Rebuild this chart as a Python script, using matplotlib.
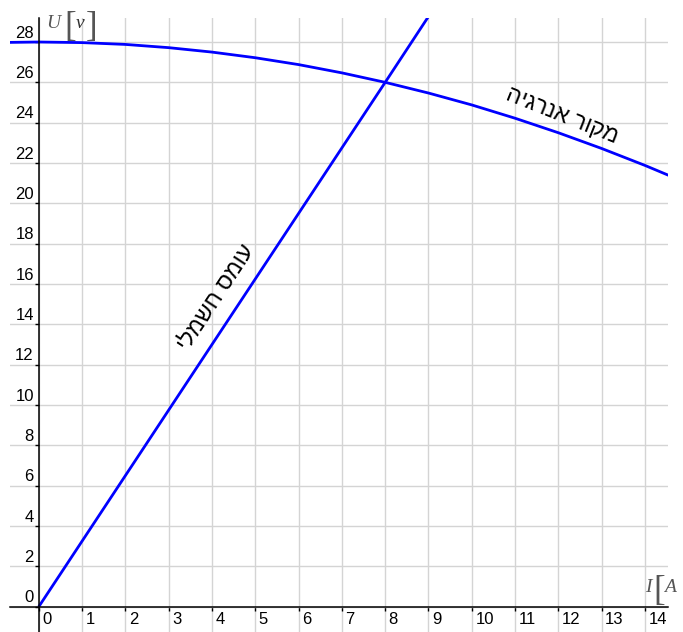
import matplotlib
matplotlib.use('Agg')
import matplotlib.pyplot as plt

# נתונים - זרם [A] ומתח [V]
source_I = [-0.7, 0, 1, 2, 3, 4, 5, 6, 7, 8, 9, 10, 11, 12, 13, 14, 14.6]
source_U = [27.98, 28.00, 27.97, 27.88, 27.72, 27.50, 27.22, 26.88, 26.47,
            26.00, 25.47, 24.88, 24.22, 23.50, 22.72, 21.88, 21.34]
load_I = [0, 4, 8, 9.5]
load_U = [0, 13, 26, 30.9]

x_ticks = list(range(0, 15))
y_ticks = list(range(0, 29, 2))

source_label = 'מקור אנרגיה'
load_label = 'עומס חשמלי'

plt.rcParams['font.family'] = ['Liberation Sans', 'DejaVu Sans']

fig = plt.figure(figsize=(6.83, 6.32), dpi=100)
ax = fig.add_axes([10 / 683, 0, 658 / 683, 614 / 632])
ax.set_xlim(-0.663, 14.53)
ax.set_ylim(-1.25, 29.19)

for s in ['top', 'right']:
    ax.spines[s].set_visible(False)
ax.spines['left'].set_position(('data', 0))
ax.spines['bottom'].set_position(('data', 0))
for s in ['left', 'bottom']:
    ax.spines[s].set_linewidth(1.1)
ax.set_xticks(x_ticks)
ax.set_yticks(y_ticks)
ax.tick_params(direction='out', length=3, width=1, labelbottom=False, labelleft=False)
ax.grid(True, color='#d4d4d4', lw=1)
ax.set_axisbelow(True)

# תוויות הצירים (ידני, כמו בגאוגברה)
for x in x_ticks:
    ax.annotate(str(x), (x, 0), xytext=(2.5, -3.5), textcoords='offset points',
                ha='left', va='top', fontsize=12)
for y in y_ticks:
    ax.annotate(str(y), (0, y), xytext=(-3.5, 1), textcoords='offset points',
                ha='right', va='bottom', fontsize=12)

ax.plot(source_I, source_U, color='#0000ff', lw=2, solid_capstyle='butt')
ax.plot(load_I, load_U, color='#0000ff', lw=2, solid_capstyle='butt')

# matplotlib לא הופך עברית - הופכים את הסדר
ax.text(12.08, 24.38, source_label[::-1], rotation=-21.8, rotation_mode='anchor',
        ha='center', va='center', fontsize=16.5)
ax.text(4.09, 15.35, load_label[::-1], rotation=56.6, rotation_mode='anchor',
        ha='center', va='center', fontsize=16.5)

# שמות הצירים
gray = '#555555'
ax.text(0.18, 28.69, 'U', family='Liberation Serif', style='italic', fontsize=14,
        color=gray, clip_on=False)
ax.text(0.6, 28.3, '[', family='Liberation Serif', fontsize=25, color=gray,
        clip_on=False)
ax.text(0.86, 28.69, 'v', family='Liberation Serif', style='italic', fontsize=14,
        color='#333333', clip_on=False)
ax.text(1.08, 28.3, ']', family='Liberation Serif', fontsize=25, color=gray,
        clip_on=False)

ax.text(14.0, 0.72, 'I', family='Liberation Serif', style='italic', fontsize=14,
        color=gray, clip_on=False)
ax.text(14.2, 0.35, '[', family='Liberation Serif', fontsize=25, color=gray,
        clip_on=False)
ax.text(14.45, 0.72, 'A', family='Liberation Serif', style='italic', fontsize=14,
        color=gray, clip_on=False)

fig.savefig('out.png', dpi=100)
